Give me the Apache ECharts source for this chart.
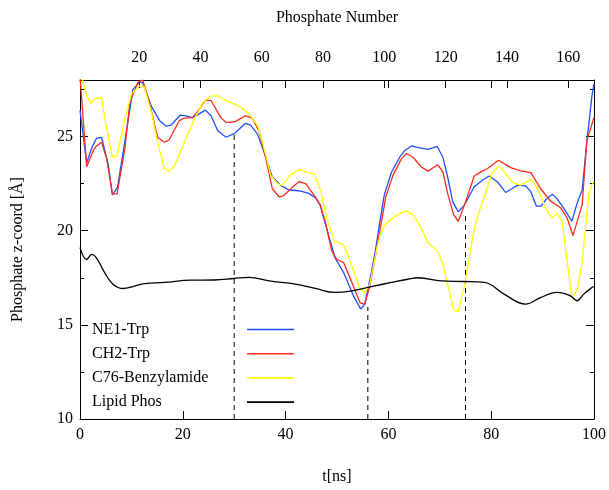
<!DOCTYPE html>
<html><head><meta charset="utf-8">
<script src="https://cdn.jsdelivr.net/npm/echarts@6/dist/echarts.min.js"></script>
<style>html,body{margin:0;padding:0;background:#fff;overflow:hidden}#c{width:609px;height:490px}</style>
</head><body><div id="c"></div>
<script>
// t [ns], z-coord [Å]
const ne1Trp = [[0,26.4],[1.3,23.6],[2.3,24.4],[3.2,24.9],[4.2,24.95],[5.5,23.5],[6.3,21.9],[7.3,22.3],[8.7,24.7],[10.3,27.5],[11.6,27.9],[12.2,27.85],[13.9,26.6],[15.5,25.84],[16.8,25.55],[17.7,25.6],[19.5,26.14],[20.6,26.1],[21.9,26.0],[23.2,26.2],[24.4,26.4],[25.5,26.1],[26.8,25.3],[28.4,24.96],[30,25.15],[32.2,25.7],[33.2,25.6],[34.5,25.14],[35.8,24.17],[37.4,22.86],[39.0,22.42],[40.6,22.16],[42.6,22.12],[44.5,21.98],[45.8,21.75],[46.7,21.37],[48,20.1],[49.6,18.56],[51.3,17.77],[53.2,16.54],[54.6,15.84],[55.4,16.1],[56.7,17.8],[57.5,19.0],[58.3,20.4],[59.2,21.9],[60.6,23.1],[62.2,23.9],[63.2,24.26],[64.5,24.5],[66.1,24.4],[67.7,24.32],[69.5,24.47],[70.6,23.9],[71.6,22.77],[72.5,21.54],[73.6,21.0],[74.8,21.37],[76.7,22.33],[78.3,22.68],[79.6,22.9],[81.2,22.6],[82.8,22.03],[84.1,22.24],[85.1,22.42],[86.7,22.38],[87.7,22.07],[88.8,21.3],[89.7,21.3],[90.8,21.7],[91.9,21.93],[92.8,21.7],[94.1,21.2],[95.7,20.5],[96.7,21.45],[97.7,22.16],[98.6,24.7],[99.6,27.16],[100,27.8]];
const ch2Trp = [[0,28.2],[1.3,23.4],[2.6,24.26],[3.2,24.5],[4.2,24.7],[5.2,23.8],[6.3,21.95],[7.2,21.95],[8.7,24.3],[9.7,26.8],[11.3,27.9],[12.2,28.0],[13.5,26.8],[15.1,24.96],[16.4,24.7],[17.3,24.8],[19.3,25.84],[20.3,25.98],[21.9,26.0],[23.0,26.37],[24.4,26.93],[25.5,26.9],[27.4,26.0],[28.4,25.75],[29.3,25.75],[30.3,25.8],[32.2,26.1],[33.5,25.98],[34.8,25.3],[36.1,23.9],[37.4,22.24],[38.7,21.8],[39.6,21.85],[41.3,22.3],[42.6,22.6],[43.9,22.5],[45.5,21.9],[46.7,21.4],[47.7,20.5],[49.0,18.9],[50,18.47],[51.3,18.3],[52.9,17.25],[54.5,16.16],[55.4,16.1],[56.4,17.07],[57.7,19.0],[58.6,20.4],[59.5,21.8],[60.9,22.95],[62.5,23.8],[63.5,24.1],[64.8,23.9],[66.4,23.38],[67.7,23.16],[69.6,23.5],[70.6,23.12],[71.6,21.9],[72.7,20.84],[73.6,20.5],[74.8,21.37],[76.7,22.9],[78,23.12],[79.3,23.3],[81.4,23.74],[83.8,23.35],[85.7,23.17],[87.7,23.08],[89.6,22.24],[91.5,21.58],[93.5,21.22],[94.8,20.66],[95.9,19.74],[97.7,21.37],[98.6,24.79],[99.7,25.75],[100,26.0]];
const c76Benzylamide = [[0,28.8],[0.4,28.1],[1.3,27.16],[2.1,26.77],[3.2,27.03],[4.2,27.03],[5.2,25.4],[6.3,23.9],[7.2,23.97],[8.7,25.9],[10,27.25],[11.6,27.7],[12.5,27.65],[13.9,26.28],[15.1,24.7],[16.4,23.3],[17.4,23.16],[18.4,23.45],[20.3,24.7],[22.2,25.9],[23.9,26.8],[25.5,27.16],[26.8,27.16],[28.4,26.9],[30,26.72],[31.3,26.54],[32.9,26.2],[34.5,25.6],[35.5,24.7],[37.1,22.95],[38.4,22.5],[39.3,22.4],[40.9,22.95],[42.6,23.25],[44.2,23.1],[45.6,23.0],[46.7,22.24],[48.0,20.66],[49.4,19.5],[51.4,19.2],[52.9,18.1],[54.5,16.9],[55.4,16.7],[56.4,17.16],[57.7,19.0],[58.5,19.9],[59.6,20.4],[61.3,20.75],[62.9,21.0],[63.6,21.05],[64.8,20.84],[66.4,20.14],[67.7,19.35],[69.6,18.9],[70.6,18.2],[71.6,17.07],[72.7,15.79],[73.6,15.72],[74.8,17.07],[76.7,20.14],[78.3,21.54],[80.3,23.12],[81.6,23.44],[82.8,23.03],[84.1,22.56],[85.7,22.42],[87.7,22.72],[89.0,22.24],[90.6,21.2],[91.9,20.67],[92.8,20.93],[93.8,20.5],[94.9,18.1],[95.7,16.45],[96.7,16.8],[97.7,18.3],[98.3,20.05],[99,21.98],[99.7,22.5],[100,22.6]];
const lipidPhos = [[0,19.1],[1.3,18.47],[2.3,18.74],[3.2,18.56],[4.8,17.77],[6.4,17.16],[8.4,16.93],[10.3,17.03],[12.6,17.19],[16.4,17.25],[21.6,17.37],[26.1,17.38],[30,17.46],[32.9,17.52],[36.8,17.33],[41.9,17.16],[45.8,16.93],[49.6,16.72],[52.9,16.8],[56.7,17.03],[60.6,17.25],[63.8,17.42],[65.8,17.5],[70.3,17.33],[74.8,17.3],[78.7,17.25],[82.5,16.63],[86.7,16.1],[89.6,16.45],[92.8,16.72],[95.4,16.54],[96.7,16.28],[98.0,16.63],[99.6,16.98],[100,17.05]];
// dashed markers: time and height reached
const dashT = [30, 56, 75];
const dashTop = [25.2, 15.95, 20.95];
// tick labels
const tTicks = [0, 20, 40, 60, 80, 100];
const phosTicks = [20, 40, 60, 80, 100, 120, 140, 160];
const zMajor = [10, 15, 20, 25];
const zMinor = [12.5, 17.5, 22.5, 27.5];

const FONT = 'Liberation Serif';
const names = ['NE1-Trp', 'CH2-Trp', 'C76-Benzylamide', 'Lipid Phos'];
const colors = ['#1f4fff', '#ff2a1a', '#ffff00', '#000000'];
const datasets = [ne1Trp, ch2Trp, c76Benzylamide, lipidPhos];

const chart = echarts.init(document.getElementById('c'), null, {renderer: 'canvas'});
const lineAx = {show: true, lineStyle: {color: '#000', width: 1}};
const txt = {color: '#000', fontFamily: FONT, fontSize: 16};

const series = datasets.map((d, i) => ({
  name: names[i], type: 'line', data: d, symbol: 'none', showSymbol: false,
  smooth: i === 3 ? 0.4 : false, clip: true, animation: false,
  lineStyle: {color: colors[i], width: 1.3}, itemStyle: {color: colors[i]},
  xAxisIndex: 0, yAxisIndex: 0, z: 3 + i
}));
dashT.forEach((t, i) => {
  series.push({
    name: 'dash' + i, type: 'line', data: [[t, zMajor[0]], [t, dashTop[i]]], symbol: 'none',
    animation: false, xAxisIndex: 0, yAxisIndex: 0, z: 2,
    lineStyle: {color: '#000', width: 1, type: [5, 4]}
  });
});

chart.setOption({
  backgroundColor: '#fff',
  animation: false,
  grid: {left: 80, right: 12, top: 80, bottom: 69, containLabel: false},
  legend: {
    data: names, orient: 'vertical', left: 92, top: 321.5, padding: 0,
    align: 'right', icon: 'rect', itemWidth: 47, itemHeight: 1.6, itemGap: 8.2,
    formatter: n => '{a|' + n + '}',
    textStyle: {rich: {a: {width: 150, align: 'left', color: '#000', fontFamily: FONT, fontSize: 16, lineHeight: 16}}},
    selectedMode: false
  },
  xAxis: [
    {type: 'value', position: 'bottom', min: 0, max: 100, interval: 20,
     axisLine: lineAx, splitLine: {show: false},
     axisTick: {show: true, inside: true, length: 8, lineStyle: {color: '#000'}},
     axisLabel: Object.assign({margin: 8, customValues: tTicks}, txt),
     name: 't[ns]', nameLocation: 'middle', nameGap: 50, nameTextStyle: txt},
    {type: 'value', position: 'top', min: 0.7, max: 168.4,
     axisLine: lineAx, splitLine: {show: false},
     axisTick: {show: true, inside: true, length: 8, customValues: phosTicks, lineStyle: {color: '#000'}},
     axisLabel: Object.assign({margin: 14, customValues: phosTicks}, txt),
     name: 'Phosphate Number', nameLocation: 'middle', nameGap: 54, nameTextStyle: txt},
    {type: 'value', position: 'top', min: 0, max: 100, interval: 20,
     axisLine: {show: false}, splitLine: {show: false},
     axisTick: {show: true, inside: true, length: 8, customValues: tTicks, lineStyle: {color: '#000'}},
     axisLabel: {show: false}}
  ],
  yAxis: [
    {type: 'value', position: 'left', min: 10, max: 28, interval: 5,
     axisLine: lineAx, splitLine: {show: false},
     axisTick: {show: true, inside: true, length: 8, customValues: zMajor, lineStyle: {color: '#000'}},
     axisLabel: Object.assign({margin: 7, customValues: zMajor}, txt),
     name: 'Phosphate z-coord [Å]', nameLocation: 'middle', nameGap: 54, nameRotate: 90, nameTextStyle: txt},
    {type: 'value', position: 'left', min: 10, max: 28,
     axisLine: {show: false}, splitLine: {show: false},
     axisTick: {show: true, inside: true, length: 4, customValues: zMinor, lineStyle: {color: '#000'}},
     axisLabel: {show: false}},
    {type: 'value', position: 'right', min: 10, max: 28, interval: 5,
     axisLine: lineAx, splitLine: {show: false},
     axisTick: {show: true, inside: true, length: 8, customValues: zMajor, lineStyle: {color: '#000'}},
     axisLabel: {show: false}},
    {type: 'value', position: 'right', min: 10, max: 28,
     axisLine: {show: false}, splitLine: {show: false},
     axisTick: {show: true, inside: true, length: 4, customValues: zMinor, lineStyle: {color: '#000'}},
     axisLabel: {show: false}}
  ],
  series: series
});
</script>
</body></html>
